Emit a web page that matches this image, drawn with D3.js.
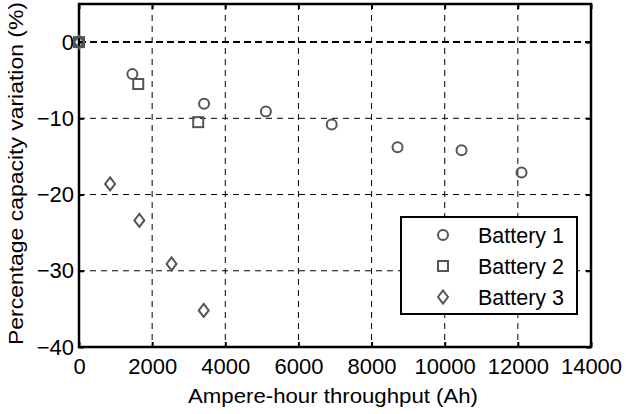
<!DOCTYPE html>
<html><head><meta charset="utf-8">
<script src="https://cdn.jsdelivr.net/npm/d3@7"></script>
<style>body{margin:0;background:#fff}text{font-family:"Liberation Sans",Arial,sans-serif}</style>
</head><body><svg id="c" width="626" height="414"></svg>
<script>
const xTicks = [0,2000,4000,6000,8000,10000,12000,14000];
const yTicks = [-40,-30,-20,-10,0];
const seriesNames = ["Battery 1","Battery 2","Battery 3"];
const battery1X = [0,1460,3420,5110,6910,8710,10460,12100];
const battery1Y = [0,-4.2,-8.1,-9.1,-10.8,-13.8,-14.2,-17.1];
const battery2X = [0,1620,3260];
const battery2Y = [0,-5.5,-10.5];
const battery3X = [0,850,1650,2530,3410];
const battery3Y = [0,-18.6,-23.4,-29.1,-35.2];

const svg = d3.select("#c");
const L=79,R=591,T=4,B=347;
const x = d3.scaleLinear().domain([0,14000]).range([L,R]);
const y = d3.scaleLinear().domain([-40,5]).range([B,T]);
const col="#555";
const FS=22;

// grid
const g = svg.append("g");
g.selectAll(".vx").data(xTicks.slice(1,-1)).join("line")
 .attr("x1",d=>x(d)).attr("x2",d=>x(d)).attr("y1",T).attr("y2",B)
 .attr("stroke","#000").attr("stroke-width",1).attr("stroke-dasharray","6,5");
g.selectAll(".hy").data([-30,-20,-10]).join("line")
 .attr("x1",L).attr("x2",R).attr("y1",d=>y(d)).attr("y2",d=>y(d))
 .attr("stroke","#000").attr("stroke-width",1).attr("stroke-dasharray","6,5");
// zero reference line
svg.append("line").attr("x1",L).attr("x2",R).attr("y1",y(0)).attr("y2",y(0))
 .attr("stroke","#000").attr("stroke-width",2).attr("stroke-dasharray","7,4");

// axes ticks inward
const xb = svg.append("g").attr("transform",`translate(0,${B})`)
 .call(d3.axisBottom(x).tickValues(xTicks).tickSize(-5).tickPadding(11).tickFormat(d3.format("d")));
const xt = svg.append("g").attr("transform",`translate(0,${T})`)
 .call(d3.axisTop(x).tickValues(xTicks).tickSize(-5).tickFormat(""));
const yl = svg.append("g").attr("transform",`translate(${L},0)`)
 .call(d3.axisLeft(y).tickValues(yTicks).tickSize(-5).tickPadding(5).tickFormat(d3.format("d")));
const yr = svg.append("g").attr("transform",`translate(${R},0)`)
 .call(d3.axisRight(y).tickValues(yTicks).tickSize(-5).tickFormat(""));
[xb,xt,yl,yr].forEach(a=>{a.select(".domain").remove();
 a.attr("font-size",FS).attr("font-family","Liberation Sans, Arial, sans-serif");
 a.selectAll(".tick line").attr("stroke","#000").attr("stroke-width",2);
 a.selectAll("text").attr("fill","#000");});
svg.append("rect").attr("x",L).attr("y",T).attr("width",R-L).attr("height",B-T)
 .attr("fill","none").attr("stroke","#000").attr("stroke-width",2.5);

// markers
const sym = {
 circle:(s,px,py)=>s.append("circle").attr("cx",px).attr("cy",py).attr("r",5),
 square:(s,px,py)=>s.append("rect").attr("x",px-5).attr("y",py-5).attr("width",10).attr("height",10),
 diamond:(s,px,py)=>s.append("path").attr("d",`M${px},${py-6.5}L${px+5},${py}L${px},${py+6.5}L${px-5},${py}Z`)
};
const series=[[battery1X,battery1Y,"circle"],[battery2X,battery2Y,"square"],[battery3X,battery3Y,"diamond"]];
const mg = svg.append("g").attr("fill","none").attr("stroke",col).attr("stroke-width",2);
series.forEach(([xs,ys,s])=>xs.forEach((v,i)=>sym[s](mg,x(v),y(ys[i]))));

// legend
const lg = svg.append("g");
lg.append("rect").attr("x",401).attr("y",217).attr("width",176).attr("height",97)
 .attr("fill","#fff").attr("stroke","#000").attr("stroke-width",2);
const lm = lg.append("g").attr("fill","none").attr("stroke",col).attr("stroke-width",2);
seriesNames.forEach((n,i)=>{
 const py=235+i*31;
 sym[series[i][2]](lm,443,py);
 lg.append("text").attr("x",478).attr("y",py).attr("dy","0.36em").attr("font-size",21.5).text(n);
});

// axis labels
svg.append("text").attr("x",333).attr("y",403).attr("text-anchor","middle").attr("font-size",21)
 .attr("textLength",290).attr("lengthAdjust","spacingAndGlyphs")
 .text("Ampere-hour throughput (Ah)");
svg.append("text").attr("transform",`translate(23,173.5) rotate(-90)`).attr("text-anchor","middle").attr("font-size",21)
 .attr("textLength",343).attr("lengthAdjust","spacingAndGlyphs")
 .text("Percentage capacity variation (%)");
</script></body></html>
